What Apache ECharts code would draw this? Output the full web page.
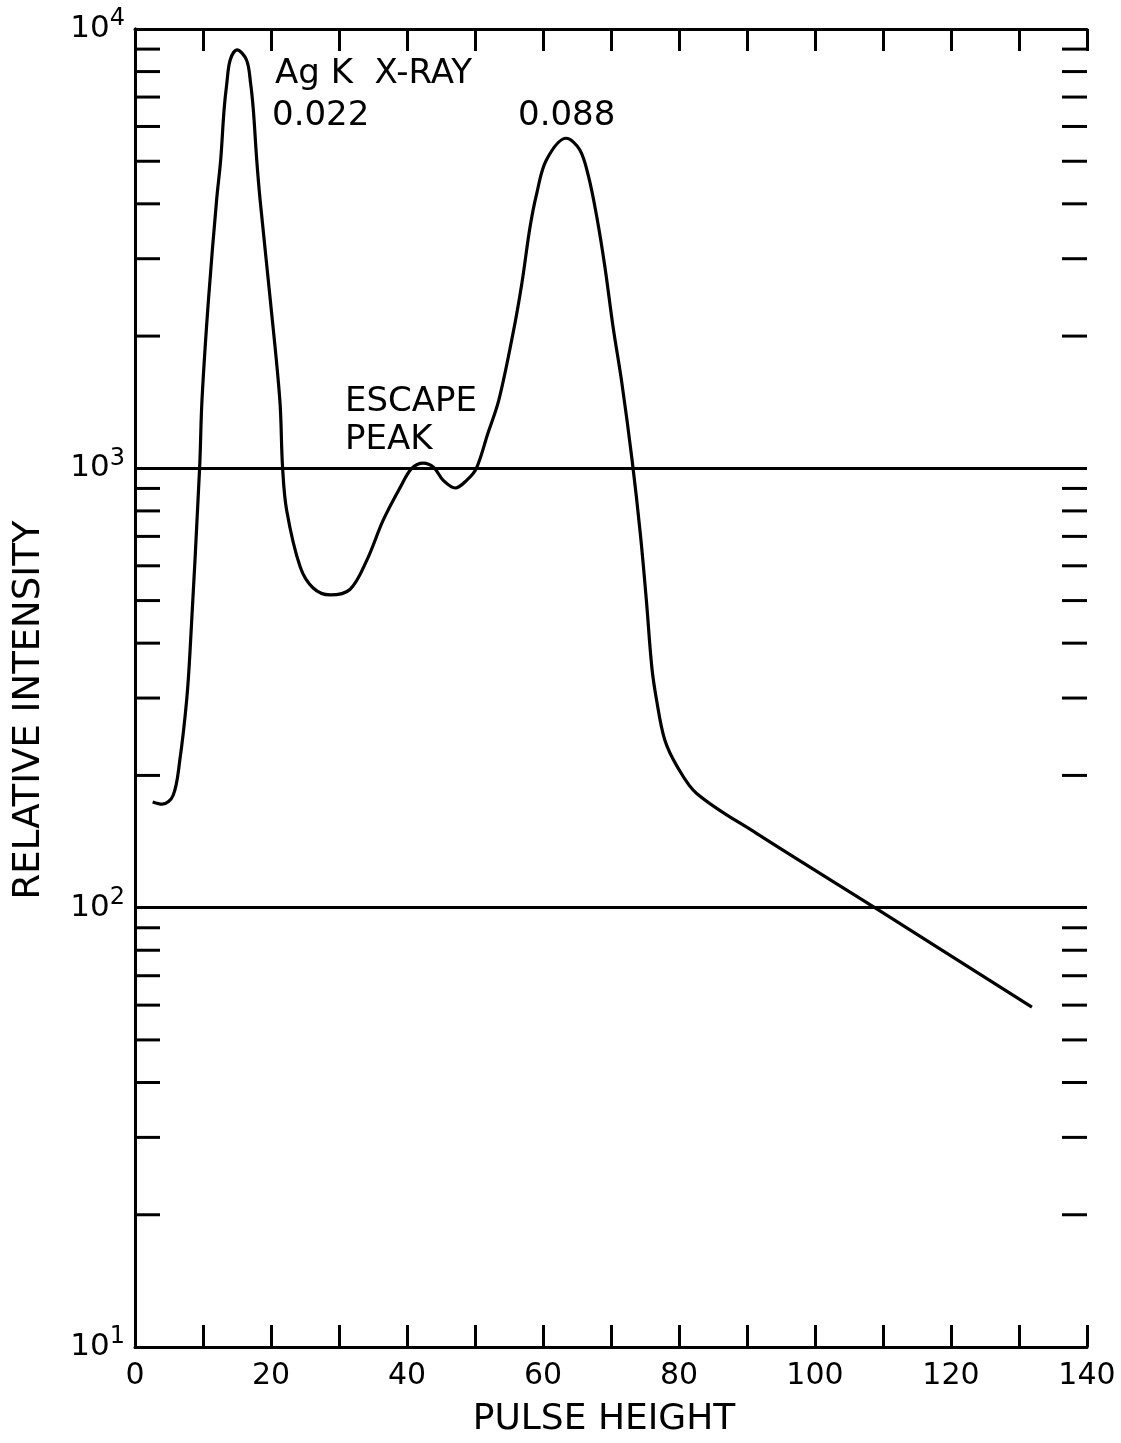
<!DOCTYPE html>
<html><head><meta charset="utf-8">
<script src="https://cdn.jsdelivr.net/npm/echarts@6/dist/echarts.min.js"></script>
<style>html,body{margin:0;padding:0;background:#fff}#c{width:1121px;height:1443px}</style>
</head><body><div id="c"></div>
<script>
// Pulse-height spectrum
const pulseHeight = [2.6, 4.0, 5.6, 6.6, 7.6, 8.1, 9.5, 9.85, 10.8, 12.0, 12.6, 13.1, 13.5, 14.0, 15.0, 16.4, 17.0, 17.4, 17.9, 18.4, 19.9, 21.3, 21.7, 22.3, 24.3, 26.2, 28.7, 31.6, 34.1, 36.5, 39.0, 40.7, 42.4, 43.9, 45.3, 47.1, 48.8, 50.2, 51.9, 53.5, 55.6, 56.9, 58.1, 59.1, 60.5, 63.4, 65.4, 66.7, 67.9, 69.1, 70.3, 71.6, 73.1, 74.3, 75.2, 76.0, 76.7, 77.9, 79.7, 82.6, 91.4, 108.8, 131.9];
const intensity   = [174, 172, 180, 217, 297, 385, 1000, 1429, 2415, 4080, 5035, 6550, 7520, 8500, 8960, 8500, 7520, 6550, 5035, 4080, 2415, 1429, 1006, 803, 596, 534, 515, 530, 618, 762, 905, 1000, 1028, 1006, 940, 902, 940, 1000, 1202, 1429, 2032, 2643, 3548, 4238, 5035, 5640, 5310, 4613, 3743, 2877, 2100, 1563, 1045, 713, 501, 353, 297, 241, 210, 182, 147.6, 100, 59.4];
const minorTickValues = [20, 30, 40, 50, 60, 70, 80, 90, 200, 300, 400, 500, 600, 700, 800, 900, 2000, 3000, 4000, 5000, 6000, 7000, 8000, 9000];
const xLabelEvery = 20;
const xAxisTitle = 'PULSE HEIGHT';
const yAxisTitle = 'RELATIVE INTENSITY';
const annotations = [
  {text: 'Ag K  X-RAY', left: 275, top: 57},
  {text: '0.022', left: 272, top: 99},
  {text: '0.088', left: 518, top: 99},
  {text: 'ESCAPE', left: 345, top: 385},
  {text: 'PEAK', left: 345, top: 423}
];
const FONT = 'DejaVu Sans';

const chart = echarts.init(document.getElementById('c'), null, {renderer: 'canvas'});
const axisLineStyle = {color: '#000', width: 3};
const xCommon = {
  type: 'value', min: 0, max: 140, interval: 10,
  axisLine: {show: true, onZero: false, lineStyle: axisLineStyle},
  axisTick: {show: true, inside: true, length: 22, lineStyle: {color: '#000', width: 3}},
  splitLine: {show: false}
};
const yCommon = {
  type: 'log', logBase: 10, min: 10, max: 10000,
  axisLine: {show: true, lineStyle: axisLineStyle},
  axisTick: {show: false},
  splitLine: {show: false}
};
chart.setOption({
  animation: false,
  backgroundColor: '#fff',
  grid: {left: 135, right: 34, top: 29, bottom: 96},
  xAxis: [
    Object.assign({}, xCommon, {
      position: 'bottom',
      axisLabel: {
        fontFamily: FONT, fontSize: 30, color: '#000', margin: 14,
        formatter: v => (v % xLabelEvery === 0 ? String(v) : '')
      }
    }),
    Object.assign({}, xCommon, {position: 'top', axisLabel: {show: false}})
  ],
  yAxis: [
    Object.assign({}, yCommon, {
      position: 'left',
      splitLine: {show: true, lineStyle: {color: '#000', width: 3}},
      axisLabel: {
        margin: 10, color: '#000',
        formatter: v => '{b|10}{s|' + Math.round(Math.log10(v)) + '}',
        rich: {
          b: {fontFamily: FONT, fontSize: 31, color: '#000'},
          s: {fontFamily: FONT, fontSize: 24, color: '#000', verticalAlign: 'bottom', padding: [0, 0, 20, 0]}
        }
      }
    }),
    Object.assign({}, yCommon, {position: 'right', axisLabel: {show: false}})
  ],
  series: [
    {
      type: 'custom', xAxisIndex: 0, yAxisIndex: 0, silent: true,
      data: minorTickValues.map(v => [0, v]),
      encode: {x: 0, y: 1},
      renderItem: (params, api) => {
        const v = api.value(1);
        const l = api.coord([0, v]);
        const r = api.coord([140, v]);
        return {type: 'group', children: [
          {type: 'line', shape: {x1: l[0], y1: l[1], x2: l[0] + 25, y2: l[1]}, style: {stroke: '#000', lineWidth: 3}},
          {type: 'line', shape: {x1: r[0] - 25, y1: r[1], x2: r[0], y2: r[1]}, style: {stroke: '#000', lineWidth: 3}}
        ]};
      }
    },
    {
      type: 'line', xAxisIndex: 0, yAxisIndex: 0,
      data: pulseHeight.map((x, i) => [x, intensity[i]]),
      smooth: 0.35, showSymbol: false, symbol: 'none',
      lineStyle: {color: '#000', width: 3.2}
    }
  ],
  graphic: annotations.map(a => ({
    type: 'text', left: a.left, top: a.top,
    style: {text: a.text, fontFamily: FONT, fontSize: 34, fill: '#000'}
  })).concat([
    {type: 'text', x: 604, y: 1420,
     style: {text: xAxisTitle, fontFamily: FONT, fontSize: 36, fill: '#000', textAlign: 'center', textVerticalAlign: 'middle'}},
    {type: 'text', x: 29, y: 710, rotation: Math.PI / 2,
     style: {text: yAxisTitle, fontFamily: FONT, fontSize: 37, fill: '#000', textAlign: 'center', textVerticalAlign: 'middle'}}
  ])
});
</script>
</body></html>
